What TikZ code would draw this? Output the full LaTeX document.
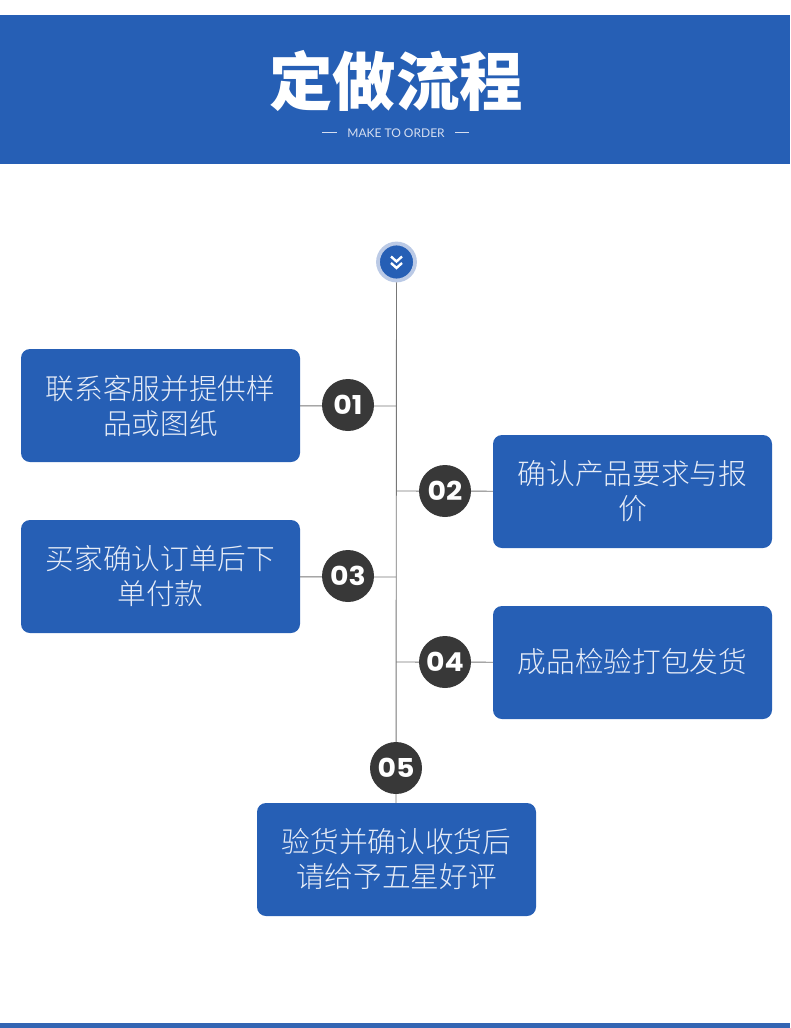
\documentclass[tikz,border=0pt]{standalone}
\usepackage{fontspec}
\usepackage{xcolor}
\setmainfont{Noto Sans CJK SC}
\newfontfamily\lightfont{Noto Sans CJK SC Light}
\newfontfamily\capsfont{Lato}
\newfontfamily\numfont{Poppins}
\usetikzlibrary{positioning,calc}
\definecolor{mtblue}{HTML}{265FB5}
\definecolor{mtbar}{HTML}{3365B3}
\definecolor{mtdark}{HTML}{383838}
\definecolor{mtline}{HTML}{777777}
\definecolor{mtring}{HTML}{BBCAE6}
\definecolor{mttext}{HTML}{E6ECF7}
\definecolor{mtsub}{HTML}{D5DEF0}
\newcommand{\numtxt}[1]{\scalebox{1.09}[1]{#1}}
\tikzset{
  stepbox/.style={rectangle,rounded corners=9pt,fill=mtblue,minimum width=279pt,
                  minimum height=113pt,inner sep=0pt,align=center,text=mttext,
                  font=\fontsize{28.7}{35}\lightfont},
  numdot/.style={circle,fill=mtdark,minimum size=52pt,inner sep=0pt,text=white,
                 font=\fontsize{26}{26}\numfont\bfseries},
  link/.style={draw=mtline,line width=0.9pt},
}
\begin{document}
\begin{tikzpicture}[x=1pt,y=-1pt]
  \useasboundingbox (0,0) rectangle (790,1028);
  % header and foot
  \fill[mtblue] (0,15) rectangle (790,164);
  \fill[mtbar] (0,1023) rectangle (790,1028);
  \node[text=white,font=\fontsize{63.5}{64}\selectfont\bfseries] (title) at (396,81) {定做流程};
  \node[text=mtsub,font=\fontsize{12}{12}\capsfont] (sub) at (396,133) {MAKE TO ORDER};
  \draw[mtsub,line width=0.7pt] (322,132) -- (337,132);
  \draw[mtsub,line width=0.7pt] (455,132) -- (469,132);
  % top icon
  \node[circle,fill=mtblue,draw=mtring,line width=3.8pt,minimum size=37pt,inner sep=0pt] (top) at (396.5,262) {};
  \draw[white,line width=2.4pt] (391,256.5) -- (396.5,261.5) -- (402,256.5);
  \draw[white,line width=2.4pt] (391,263) -- (396.5,268) -- (402,263);
  % steps
  \node[stepbox] (box1) at (160.5,405.5) {联系客服并提供样\\品或图纸};
  \node[stepbox] (box2) at (632.5,491.5) {确认产品要求与报\\价};
  \node[stepbox] (box3) at (160.5,576.5) {买家确认订单后下\\单付款};
  \node[stepbox] (box4) at (632.5,662.5) {\raisebox{4pt}{成品检验打包发货}};
  \node[stepbox] (box5) at (396.5,859.5) {验货并确认收货后\\请给予五星好评};
  \coordinate (end) at (396,803);
  \draw[link] (top.south) -- (end);
  \foreach \n/\x/\y/\c in {1/348/406/405, 2/445/491/491, 3/348/577/576, 4/445/662/662}{
     \coordinate (join\n) at (396,\y);
     \draw[link] (box\n) -- (join\n);
     \node[numdot] (num\n) at (\x,\c) {\numtxt{0\n}};
  }
  \node[numdot] (num5) at (396,768) {\numtxt{05}};
\end{tikzpicture}
\end{document}
